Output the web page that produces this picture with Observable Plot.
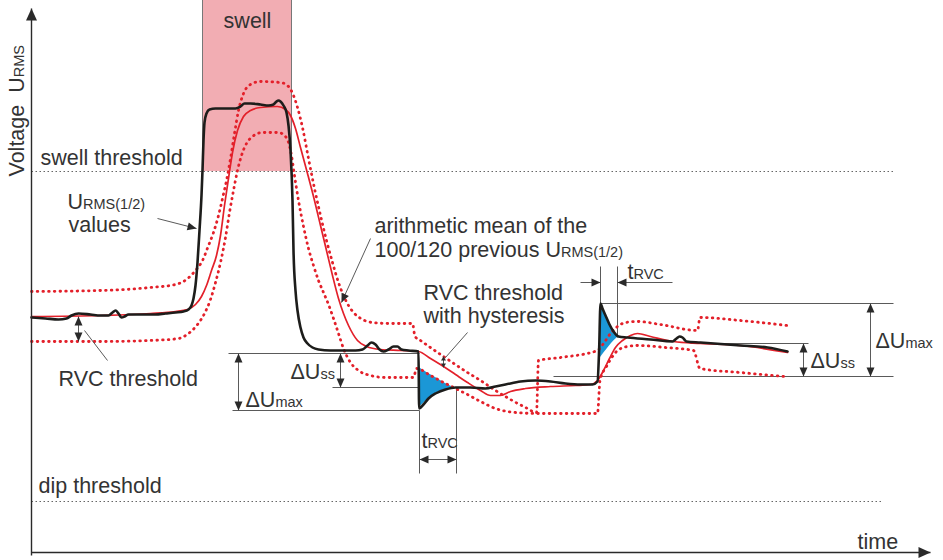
<!DOCTYPE html>
<html><head><meta charset="utf-8">
<script src="https://cdn.jsdelivr.net/npm/d3@7"></script>
<script src="https://cdn.jsdelivr.net/npm/@observablehq/plot@0.6"></script>
<style>body{margin:0;background:#fff}</style>
</head><body><div id="chart"></div>
<script>
// ---- data (time, voltage in drawing units; voltage axis runs downward) ----
const urmsHalf = [
[31,317],[45,318],[58,319],[66,318],[71,315],[78,313],[90,314],[100,315],[108,315],[112,312],[115,310],[118,313],[121,317],[124,316],[128,314],[140,314],[155,314],[165,313],[175,312],[183,311],[188,309],[191,305],[193,298],[195,285],[197,262],[199,230],[201,195],[202,170],[203,140],[204,122],[206,113],[209,109],[215,108],[225,108],[235,108],[240,106],[244,103],[250,103],[260,104],[268,105],[273,104],[276,101],[278,100],[280,101],[283,105],[286,112],[288,125],[290,150],[292,200],[293,250],[295,290],[297,310],[300,327],[303,337],[307,343],[312,347],[318,349],[330,350],[345,350],[355,350],[362,349],[367,345],[371,342],[375,344],[379,349],[383,351],[388,349],[393,346],[397,346],[401,349],[408,350],[418,351],[418.6,408],[423,404],[428,398],[435,393],[445,389],[455,387],[470,387],[485,388],[495,386],[505,384],[520,381],[535,380],[550,381],[565,383],[580,384],[592,384],[597,381],[598.6,350],[600,303],[602,308],[605,315],[609,324],[613,331],[618,336],[627,337],[650,339],[672,341],[676,338],[679,336],[682,337],[686,341],[700,342],[740,345],[767,347],[787,351]
];
const meanPrev = [
[31,316],[100,315],[150,313],[175,311],[187,309],[195,304],[201,296],[206,285],[211,270],[216,255],[220,235],[224,205],[228,178],[232,152],[237,130],[243,116],[250,110],[260,107],[277,106],[285,109],[290,115],[295,128],[300,147],[307,173],[314,200],[320,225],[326,250],[332,275],[338,298],[343,313],[348,325],[357,340],[366,346],[380,349],[400,350],[418,351],[430,358],[443,366],[455,374],[467,382],[480,390],[490,395],[500,395],[510,391],[525,388],[550,386],[575,385],[590,384],[597,380],[603,370],[609,358],[615,347],[622,340],[630,335],[637,333],[650,336],[673,341],[700,343],[740,345],[787,352]
];
const bandUpper = [
[31,291],[100,290],[150,287],[175,284],[186,279],[195,270],[202,260],[208,245],[213,232],[218,215],[222,198],[226,180],[230,158],[234,133],[238,110],[243,93],[250,84],[260,81],[280,82],[288,86],[293,95],[297,107],[302,127],[308,158],[314,188],[320,215],[326,240],[332,262],[338,282],[343,295],[348,305],[354,313],[362,319],[372,322],[390,323],[412,323],[414.5,336],[420,340],[443,356],[467,372],[480,380],[495,390],[510,399],[525,407],[536,412],[538,360],[560,357],[597,350],[603,343],[610,333],[617,326],[625,322],[637,321],[660,324],[697,330],[699.5,317],[740,320],[787,325]
];
const bandLower = [
[31,341],[100,341],[150,340],[178,338],[188,333],[197,324],[204,313],[210,299],[215,282],[220,262],[225,237],[229,212],[233,190],[237,170],[241,155],[246,143],[252,136],[262,132],[278,132],[284,135],[288,142],[291,155],[294,175],[298,200],[303,226],[308,248],[313,265],[318,280],[323,292],[328,304],[333,318],[338,333],[343,348],[350,362],[358,370],[370,375],[385,377],[413,377],[416,368],[430,375],[443,382],[453,387],[467,394],[480,401],[495,408],[515,412],[537,413],[597,413],[599.5,380],[606,366],[612,356],[617,350],[627,346],[637,345],[665,347],[693,350],[699.5,368],[740,372],[785,376]
];
// RVC exceedance areas: [time, band, urms]
const rvcArea1 = [[418.6,367,407],[423,370,403],[428,373,398],[435,377,393],[445,383,389],[453,387,387]];
const rvcArea2 = [[600,303,357],[603,310,353],[607,319,348],[611,327,343],[617,336,337]];
const swellSpan = [{t1:202, t2:291, u1:0, u2:171}];
const thresholds = [{name:"swell", u:171, t2:895}, {name:"dip", u:501, t2:881}];
// annotation geometry
const guideLines = [
 [228,353,419,353],[332,387,455,387],[232,410,419,410],[419,410,419,473],[456,387,456,473],
 [600,303,893,303],[690,343,808,343],[553,376,893,376],[600,266,600,303],[617,266,617,337]
];
const doubleArrows = [
 [238,353,238,410],[340,353,340,387],[419,459,456,459],[870,303,870,376],[803,343,803,376],[78,316,78,341],[443,356,443,367]
];
const singleArrows = [[157,218,196,228],[370,238,341,302],[580,282,600,282],[672,282,617,282]];
const plainLeaders = [[84,330,107,360],[467,332,445,357]];
const axesArrows = [[31,555,31,8],[31,552,930,552]];
const labels = [
 {x:40,y:164,t:"swell threshold"},
 {x:38,y:492,t:"dip threshold"},
 {x:857,y:548,t:"time"},
 {x:67,y:208,t:"U|RMS(1/2)"},
 {x:68,y:231,t:"values"},
 {x:58,y:385,t:"RVC threshold"},
 {x:374,y:232,t:"arithmetic mean of the"},
 {x:374,y:256,t:"100/120 previous U|RMS(1/2)"},
 {x:423,y:299,t:"RVC threshold"},
 {x:423,y:322,t:"with hysteresis"},
 {x:290,y:378,t:"ΔU|ss"},
 {x:245,y:406,t:"ΔU|max"},
 {x:421,y:447,t:"t|RVC"},
 {x:627,y:278,t:"t|RVC"},
 {x:810,y:367,t:"ΔU|ss"},
 {x:875,y:347,t:"ΔU|max"}
];
const centerLabels = [{x:247,y:27,t:"swell"}];
const axisTitle = [{x:23,y:176,t:"Voltage  U|RMS"}];

// ---- helpers ----
function heads(segs, both, len, hw) {
  const out = [];
  segs.forEach((s, i) => {
    const [x1,y1,x2,y2] = s;
    const mk = (tx,ty,fx,fy,id) => {
      const ang = Math.atan2(ty-fy, tx-fx);
      const bx = tx - len*Math.cos(ang), by = ty - len*Math.sin(ang);
      const px = -Math.sin(ang)*hw, py = Math.cos(ang)*hw;
      out.push({x:tx,y:ty,id},{x:bx+px,y:by+py,id},{x:bx-px,y:by-py,id});
    };
    mk(x2,y2,x1,y1,i+"b");
    if (both) mk(x1,y1,x2,y2,i+"a");
  });
  return out;
}
const seg = a => a.map(([x1,y1,x2,y2]) => ({x1,y1,x2,y2}));
const smallArrows = doubleArrows.slice(-1);
const gray = "#5a5a5a", red = "#e3202a", ink = "#333";
const F = "'Liberation Sans', Arial, Helvetica, sans-serif";
const dotted = {stroke:red, strokeWidth:2.8, strokeDasharray:"0.6,5.1", strokeLinecap:"round", curve:"monotone-x"};

const chart = Plot.plot({
  width: 943, height: 560, margin: 0,
  x: {domain:[0,943], range:[0,943], axis:null},
  y: {domain:[0,560], range:[0,560], axis:null},
  style: {fontFamily: F, background:"#fff"},
  marks: [
    Plot.rect(swellSpan, {x1:"t1", x2:"t2", y1:"u1", y2:"u2", fill:"#f2adb3"}),
    Plot.ruleX([swellSpan[0].t1, swellSpan[0].t2], {y1:0, y2:171, stroke:"#777", strokeWidth:1}),
    Plot.link(thresholds, {x1:31, x2:"t2", y1:"u", y2:"u", stroke:"#666", strokeWidth:1, strokeDasharray:"1.5,2.5"}),
    Plot.link(seg(guideLines), {x1:"x1",y1:"y1",x2:"x2",y2:"y2", stroke:gray, strokeWidth:1}),
    Plot.areaY(rvcArea1, {x:d=>d[0], y1:d=>d[1], y2:d=>d[2], fill:"#1b97d6", curve:"monotone-x"}),
    Plot.areaY(rvcArea2, {x:d=>d[0], y1:d=>d[1], y2:d=>d[2], fill:"#1b97d6", curve:"monotone-x"}),
    Plot.line(bandUpper, {x:d=>d[0], y:d=>d[1], ...dotted}),
    Plot.line(bandLower, {x:d=>d[0], y:d=>d[1], ...dotted}),
    Plot.line(meanPrev, {x:d=>d[0], y:d=>d[1], stroke:red, strokeWidth:1.7, curve:"monotone-x"}),
    Plot.line(urmsHalf, {x:d=>d[0], y:d=>d[1], stroke:"#1d1d1b", strokeWidth:2.6, curve:"monotone-x"}),
    Plot.link(seg(doubleArrows.slice(0,-1)), {x1:"x1",y1:"y1",x2:"x2",y2:"y2", stroke:gray, strokeWidth:1}),
    Plot.line(heads(doubleArrows.slice(0,-1), true, 9, 4), {x:"x", y:"y", z:"id", fill:"#2a2a2a", stroke:"none"}),
    Plot.link(seg(smallArrows), {x1:"x1",y1:"y1",x2:"x2",y2:"y2", stroke:gray, strokeWidth:1}),
    Plot.line(heads(smallArrows, true, 4, 2.5), {x:"x", y:"y", z:"id", fill:"#2a2a2a", stroke:"none"}),
    Plot.link(seg(singleArrows), {x1:"x1",y1:"y1",x2:"x2",y2:"y2", stroke:gray, strokeWidth:1}),
    Plot.line(heads(singleArrows, false, 9, 4), {x:"x", y:"y", z:"id", fill:"#2a2a2a", stroke:"none"}),
    Plot.link(seg(plainLeaders), {x1:"x1",y1:"y1",x2:"x2",y2:"y2", stroke:gray, strokeWidth:1}),
    Plot.link(seg(axesArrows), {x1:"x1",y1:"y1",x2:"x2",y2:"y2", stroke:"#2a2a2a", strokeWidth:1.4}),
    Plot.line(heads(axesArrows, false, 12, 5.5), {x:"x", y:"y", z:"id", fill:"#2a2a2a", stroke:"none"}),
    Plot.text(labels, {x:"x", y:"y", text:"t", textAnchor:"start", lineAnchor:"bottom", fontSize:21.5, fill:ink, fontFamily:F}),
    Plot.text(centerLabels, {x:"x", y:"y", text:"t", textAnchor:"middle", lineAnchor:"bottom", fontSize:21.5, fill:ink, fontFamily:F}),
    Plot.text(axisTitle, {x:"x", y:"y", text:"t", textAnchor:"start", lineAnchor:"bottom", rotate:-90, fontSize:21.5, fill:ink, fontFamily:F})
  ]
});
// subscript-like small suffix on the same baseline
chart.querySelectorAll("text").forEach(el => {
  const s = el.textContent;
  if (s.includes("|")) {
    const [a, b] = s.split("|");
    el.textContent = "";
    const ns = "http://www.w3.org/2000/svg";
    const t1 = document.createElementNS(ns, "tspan"); t1.textContent = a;
    const t2 = document.createElementNS(ns, "tspan"); t2.textContent = b; t2.setAttribute("font-size", "14.5");
    el.appendChild(t1); el.appendChild(t2);
  }
});
document.getElementById("chart").appendChild(chart);
</script>
</body></html>
